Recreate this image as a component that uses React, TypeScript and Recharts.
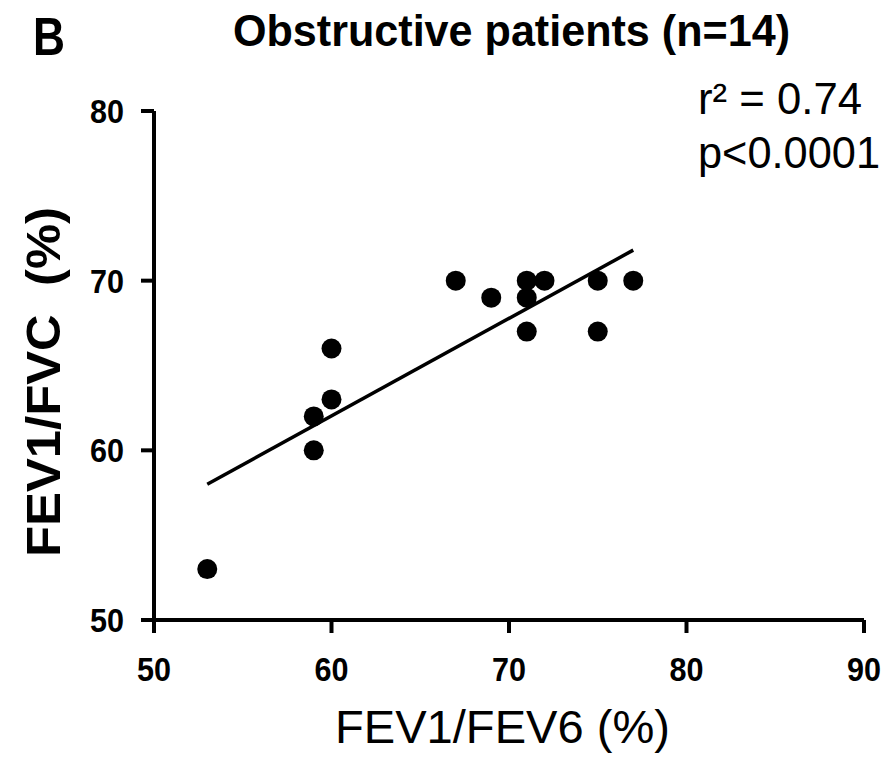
import { ScatterChart, Scatter, XAxis, YAxis, ReferenceLine } from 'recharts';

const fev1Fev6 = [53, 59, 59, 60, 60, 67, 69, 71, 71, 71, 72, 75, 75, 77];
const fev1Fvc = [53, 62, 60, 66, 63, 70, 69, 70, 69, 67, 70, 70, 67, 70];
const fitX = [53, 77];
const fitY = [58.0, 71.8];
const xTicks = [50, 60, 70, 80, 90];
const yTicks = [50, 60, 70, 80];

const FONT = '"Liberation Sans", Arial, sans-serif';

const points = fev1Fev6.map((x, i) => ({ x, y: fev1Fvc[i] }));

const Dot = (props: any) => <circle cx={props.cx} cy={props.cy} r={10} fill="#000" />;

// tick labels in the figure are narrow bold digits
const XTick = (props: any) => (
    <text
        x={props.x}
        y={props.y}
        dy={24}
        textAnchor="middle"
        fill="#000"
        fontSize={34}
        fontWeight={700}
        fontFamily={FONT}
        textLength={34}
        lengthAdjust="spacingAndGlyphs"
    >
        {props.payload.value}
    </text>
);

const YTick = (props: any) => (
    <text
        x={props.x}
        y={props.y}
        dy={12}
        textAnchor="end"
        fill="#000"
        fontSize={34}
        fontWeight={700}
        fontFamily={FONT}
        textLength={34}
        lengthAdjust="spacingAndGlyphs"
    >
        {props.payload.value}
    </text>
);

const axisStyle = { stroke: '#000', strokeWidth: 4 };

const App = () => {
    return (
        <div style={{ position: 'absolute', left: 0, top: 0, width: 895, height: 764, background: '#fff' }}>
            <ScatterChart width={895} height={764} margin={{ top: 111, right: 31, left: 54, bottom: 84 }}>
                <XAxis
                    type="number"
                    dataKey="x"
                    domain={[50, 90]}
                    ticks={xTicks}
                    height={60}
                    tickSize={13}
                    tickMargin={24}
                    tick={XTick}
                    axisLine={axisStyle}
                    tickLine={axisStyle}
                />
                <YAxis
                    type="number"
                    dataKey="y"
                    domain={[50, 80]}
                    ticks={yTicks}
                    width={100}
                    tickSize={13}
                    tickMargin={17}
                    tick={YTick}
                    axisLine={axisStyle}
                    tickLine={axisStyle}
                />
                <Scatter data={points} fill="#000" shape={Dot} isAnimationActive={false} />
                <ReferenceLine
                    segment={[
                        { x: fitX[0], y: fitY[0] },
                        { x: fitX[1], y: fitY[1] },
                    ]}
                    stroke="#000"
                    strokeWidth={3.5}
                />
            </ScatterChart>
            <svg
                width={895}
                height={764}
                style={{ position: 'absolute', left: 0, top: 0, pointerEvents: 'none' }}
                fontFamily={FONT}
            >
                <text x={33} y={55} fontSize={54} fontWeight={700} textLength={32} lengthAdjust="spacingAndGlyphs">
                    B
                </text>
                <text x={233} y={46} fontSize={44} fontWeight={700} textLength={557} lengthAdjust="spacingAndGlyphs">
                    Obstructive patients (n=14)
                </text>
                <text x={698} y={114} fontSize={44} textLength={164} lengthAdjust="spacingAndGlyphs">
                    r² = 0.74
                </text>
                <text x={698} y={168} fontSize={44} textLength={182} lengthAdjust="spacingAndGlyphs">
                    p&lt;0.0001
                </text>
                <text x={335} y={743} fontSize={46} textLength={335} lengthAdjust="spacingAndGlyphs">
                    FEV1/FEV6 (%)
                </text>
                <text
                    transform="translate(60, 557) rotate(-90)"
                    fontSize={48}
                    fontWeight={700}
                    textLength={350}
                    lengthAdjust="spacingAndGlyphs"
                >
                    FEV1/FVC&#160;&#160;(%)
                </text>
            </svg>
        </div>
    );
};

export default App;
